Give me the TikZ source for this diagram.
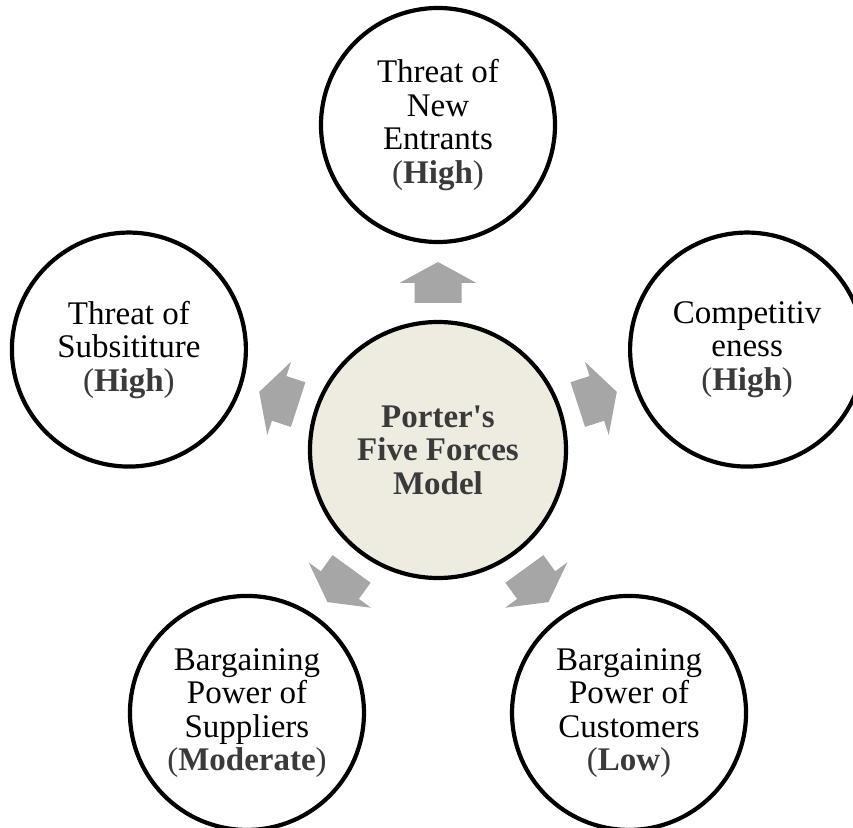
\documentclass[tikz,border=0pt]{standalone}
\usepackage{fontspec}
\setmainfont{Liberation Serif}
\definecolor{modelfill}{HTML}{EEECE1}
\definecolor{arrowgray}{HTML}{A6A6A6}
\definecolor{levelgray}{HTML}{3A3A3A}
\newcommand{\level}[1]{\textcolor{levelgray}{(\textbf{#1})}}

\begin{document}
\begin{tikzpicture}[
	x=1pt,
	y=1pt,
	force/.style={circle,draw=black,line width=4.2pt,fill=white,minimum size=234pt,inner sep=0pt,align=center,font=\fontsize{33}{33.5}\selectfont},
	model/.style={force,minimum size=256pt,fill=modelfill,text=levelgray,font=\fontsize{33}{33.5}\selectfont\bfseries}
	]
	\useasboundingbox (-438,-377) rectangle (415,450);
	\node[model] (model) at (0,0) {Porter\textquotesingle s\\Five Forces\\Model};
	\node[force] (entrants) at (90:325pt) {Threat of\\New\\Entrants\\\level{High}};
	\node[force] (rivalry) at (18:325pt) {Competitiv\\eness\\\level{High}};
	\node[force] (substitute) at (162:325pt) {Threat of\\Subsititure\\\level{High}};
	\node[force] (suppliers) at (234:325pt) {Bargaining\\Power of\\Suppliers\\\level{Moderate}};
	\node[force] (customers) at (306:325pt) {Bargaining\\Power of\\Customers\\\level{Low}};
	\begin{scope}[arrowgray]
		\foreach \a in {90,18,162,234,306}
			\fill[rotate=\a-90] (-23.5,147) -- (23.5,147) -- (23.5,167) -- (38.5,167) -- (0,188) -- (-38.5,167) -- (-23.5,167) -- cycle;
	\end{scope}
\end{tikzpicture}
\end{document}
